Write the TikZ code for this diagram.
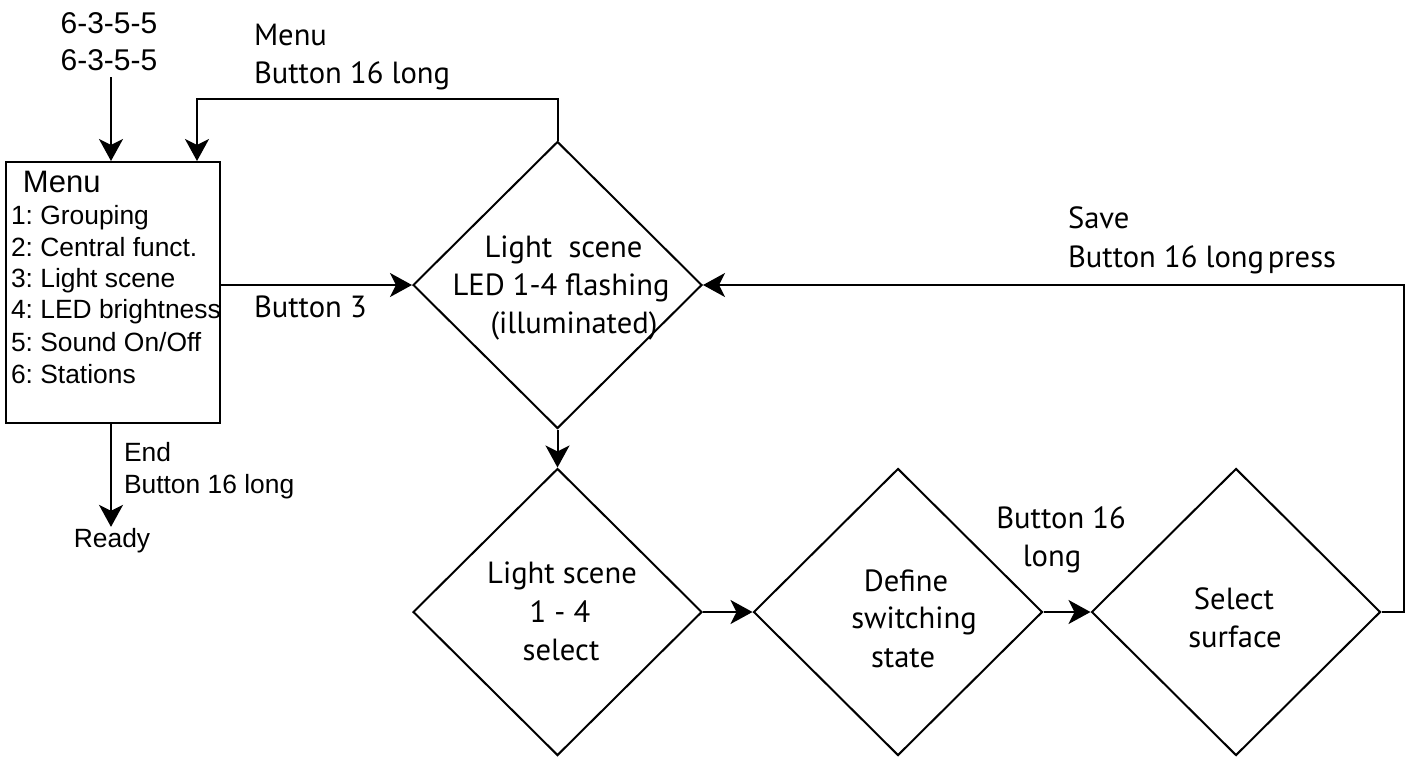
\documentclass[tikz,border=0pt]{standalone}
\usepackage{fontspec}
\setmainfont{Liberation Sans}
\newfontfamily\myr{PT Sans}
\usetikzlibrary{shapes.geometric,arrows.meta}
\frenchspacing
\begin{document}
\frenchspacing
\begin{tikzpicture}[x=1pt,y=-1pt,line width=2pt,
  arr/.style={-{Stealth[length=22pt,width=24pt,inset=6pt]}},
  dia/.style={draw,diamond,aspect=1,inner sep=0pt,minimum width=289pt,minimum height=287pt},
  lbl/.style={font=\myr\fontsize{30.6}{34}\selectfont,inner sep=0pt,anchor=base west},
  lblc/.style={font=\myr\fontsize{30.6}{34}\selectfont,inner sep=0pt,anchor=base},
  ari/.style={font=\fontsize{26.4}{30}\selectfont,inner sep=0pt,anchor=base west},
  aric/.style={font=\fontsize{26.4}{30}\selectfont,inner sep=0pt,anchor=base},
  bigar/.style={font=\fontsize{30}{34}\selectfont,inner sep=0pt,anchor=base}]
\useasboundingbox (0,0) rectangle (1418,756);

% start code
\node[bigar] (code1) at (109,33) {6-3-5-5};
\node[bigar] (code2) at (109,70) {6-3-5-5};
\coordinate (c0) at (111,77);

% menu box
\node[draw,minimum width=214pt,minimum height=261pt,inner sep=0pt] (menu) at (113,292.5) {};
\node[font=\fontsize{31}{34}\selectfont,inner sep=0pt,anchor=base west] (mtitle) at (22,192) {Menu};
\node[ari] (m1) at (10,224) {1: Grouping};
\node[ari] (m2) at (10,256) {2: Central funct.};
\node[ari] (m3) at (10,287) {3: Light scene};
\node[ari] (m4) at (10,318) {4: LED brightness};
\node[ari] (m5) at (10,351) {5: Sound On/Off};
\node[ari] (m6) at (10,383) {6: Stations};

\node[ari] (end1) at (123,461) {End};
\node[ari] (end2) at (123,493) {Button 16 long};
\node[aric] (ready) at (112,547) {Ready};

% diamonds
\node[dia] (d0) at (557.5,285) {};
\node[dia] (d1) at (557.5,612) {};
\node[dia] (d2) at (898,612) {};
\node[dia] (d3) at (1236,612) {};

% diamond texts
\node[lblc] (d0a) at (563.5,257) {Light\ \ scene};
\node[lblc] (d0b) at (561,295) {LED 1-4 flashing};
\node[lblc] (d0c) at (574,333) {(illuminated)};

\node[lblc] (d1a) at (562,583) {Light scene};
\node[lblc] (d1b) at (560,622) {1 - 4};
\node[lblc] (d1c) at (561,660) {select};

\node[lblc] (d2a) at (906,591) {Define};
\node[lblc] (d2b) at (914,628) {switching};
\node[lblc] (d2c) at (903,667) {state};

\node[lblc] (d3a) at (1234,609) {Select};
\node[lblc] (d3b) at (1235,647) {surface};

% labels
\node[lbl] (l1) at (253,45) {Menu};
\node[lbl] (l2) at (253,83) {Button 16 long};
\node[lbl] (l3) at (253,317) {Button 3};
\node[lbl] (l4) at (1067,228) {Save};
\node[lbl] (l5) at (1067,267) {Button 16 long\hspace{0.12em}press};
\node[lblc] (l6) at (1061,528) {Button 16};
\node[lblc] (l7) at (1052,566) {long};

% connectors
\coordinate (c1) at (197,99);
\coordinate (c2) at (1404,285);
\draw[arr] (c0) -- (c0 |- menu.north);
\draw[arr] (d0.north) |- (c1) -- (c1 |- menu.north);
\draw[arr] (menu.east |- d0.west) -- (d0.west);
\draw[arr] (menu.south -| c0) -- (c0 |- ready.north);
\draw[arr] (d0.south) -- (d1.north);
\draw[arr] (d1.east) -- (d2.west);
\draw[arr] (d2.east) -- (d3.west);
\draw[arr] (d3.east) -| (c2) -- (d0.east);
\end{tikzpicture}
\end{document}
